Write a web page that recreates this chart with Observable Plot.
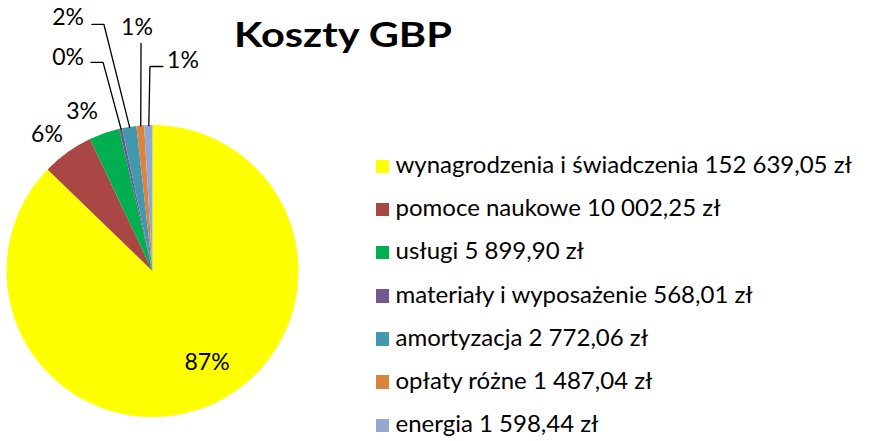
<!DOCTYPE html>
<html>
<head>
<meta charset="utf-8">
<script src="https://cdn.jsdelivr.net/npm/d3@7"></script>
<script src="https://cdn.jsdelivr.net/npm/@observablehq/plot@0.6"></script>
<style>
  html, body { margin: 0; padding: 0; background: #fff; }
  #wrap { position: relative; width: 874px; height: 441px; overflow: hidden; font-family: Lato, "Open Sans", sans-serif; }
  #chart { position: absolute; left: 0; top: 0; }
  #title { position: absolute; left: 234px; top: 15.7px; font-size: 35px; line-height: 35px; font-weight: bold; color: #000; white-space: nowrap; transform-origin: 0 0; }
  #legend { position: absolute; left: 375.5px; top: 142px; font-size: 24px; line-height: 43.17px; color: #000; white-space: nowrap; }
  #legend .sw { display: inline-block; width: 13.5px; height: 13.5px; margin-right: 6.5px; vertical-align: baseline; }
</style>
</head>
<body>
<div id="wrap">
  <div id="chart"></div>
  <div id="title">Koszty GBP</div>
  <div id="legend"></div>
</div>
<script>
// ---- data ----
const categories = ["wynagrodzenia i świadczenia", "pomoce naukowe", "usługi", "materiały i wyposażenie", "amortyzacja", "opłaty różne", "energia"];
const values = [152639.05, 10002.25, 5899.90, 568.01, 2772.06, 1487.04, 1598.44];
const valueLabels = ["152 639,05 zł", "10 002,25 zł", "5 899,90 zł", "568,01 zł", "2 772,06 zł", "1 487,04 zł", "1 598,44 zł"];
const colors = ["#FFFF00", "#AA4643", "#00B050", "#71588F", "#4198AF", "#DB843D", "#93A9CF"];

// ---- layout (pie radius units, y up) ----
const CX = 152.5, CY = 271, R = 146;
const labelPos = [[0.370, -0.627], [-0.726, 0.938], [-0.486, 1.096], [-0.582, 1.462], [-0.582, 1.740], [-0.110, 1.668], [0.205, 1.442]];
const leaderPts = {3: [[-0.425, 1.432], [-0.342, 1.432]], 4: [[-0.418, 1.692], [-0.336, 1.692]], 5: [[-0.082, 1.562]], 6: [[0.068, 1.404], [-0.021, 1.404]]};

const data = categories.map((c, i) => ({category: c, value: values[i], color: colors[i]}));
const arcs = d3.pie().sort(null).value(d => d.value)(data);
const total = d3.sum(values);

const labels = arcs.map((a, i) => ({
  text: Math.round(a.data.value / total * 100) + "%",
  x: labelPos[i][0], y: labelPos[i][1]
}));

const leaders = [];
for (const k of Object.keys(leaderPts)) {
  const i = +k;
  const mid = (arcs[i].startAngle + arcs[i].endAngle) / 2;
  leaderPts[k].forEach(p => leaders.push({id: i, x: p[0], y: p[1]}));
  leaders.push({id: i, x: Math.sin(mid), y: Math.cos(mid)});
}

const pieMark = (index, scales) => {
  const sx = scales && scales.x ? scales.x : (v => CX + v * R);
  const sy = scales && scales.y ? scales.y : (v => CY - v * R);
  const cx = sx(0), cy = sy(0), r = sx(1) - sx(0);
  const g = d3.create("svg:g").attr("transform", `translate(${cx},${cy})`);
  const arc = d3.arc().innerRadius(0).outerRadius(r);
  g.selectAll("path").data(arcs).join("path")
    .attr("d", arc)
    .attr("fill", d => d.data.color);
  return g.node();
};

const chart = Plot.plot({
  width: 874,
  height: 441,
  margin: 0,
  style: {fontFamily: "Lato, 'Open Sans', sans-serif", background: "transparent"},
  x: {domain: [-1, 1], range: [CX - R, CX + R], axis: null},
  y: {domain: [-1, 1], range: [CY + R, CY - R], axis: null},
  marks: [
    pieMark,
    Plot.line(leaders, {x: "x", y: "y", z: "id", stroke: "black", strokeWidth: 1.3}),
    Plot.text(labels, {x: "x", y: "y", text: "text", fontSize: 23, fill: "black", textAnchor: "middle"})
  ]
});
document.getElementById("chart").append(chart);

// ---- title: stretch to reference width ----
const title = document.getElementById("title");
const tw = title.getBoundingClientRect().width;
title.style.transform = `scaleX(${218 / tw})`;

// ---- legend ----
const legend = d3.select("#legend");
categories.forEach((c, i) => {
  const row = legend.append("div");
  row.append("span").attr("class", "sw").style("background", colors[i]);
  row.append("span").text(c + " " + valueLabels[i]);
});
</script>
</body>
</html>
